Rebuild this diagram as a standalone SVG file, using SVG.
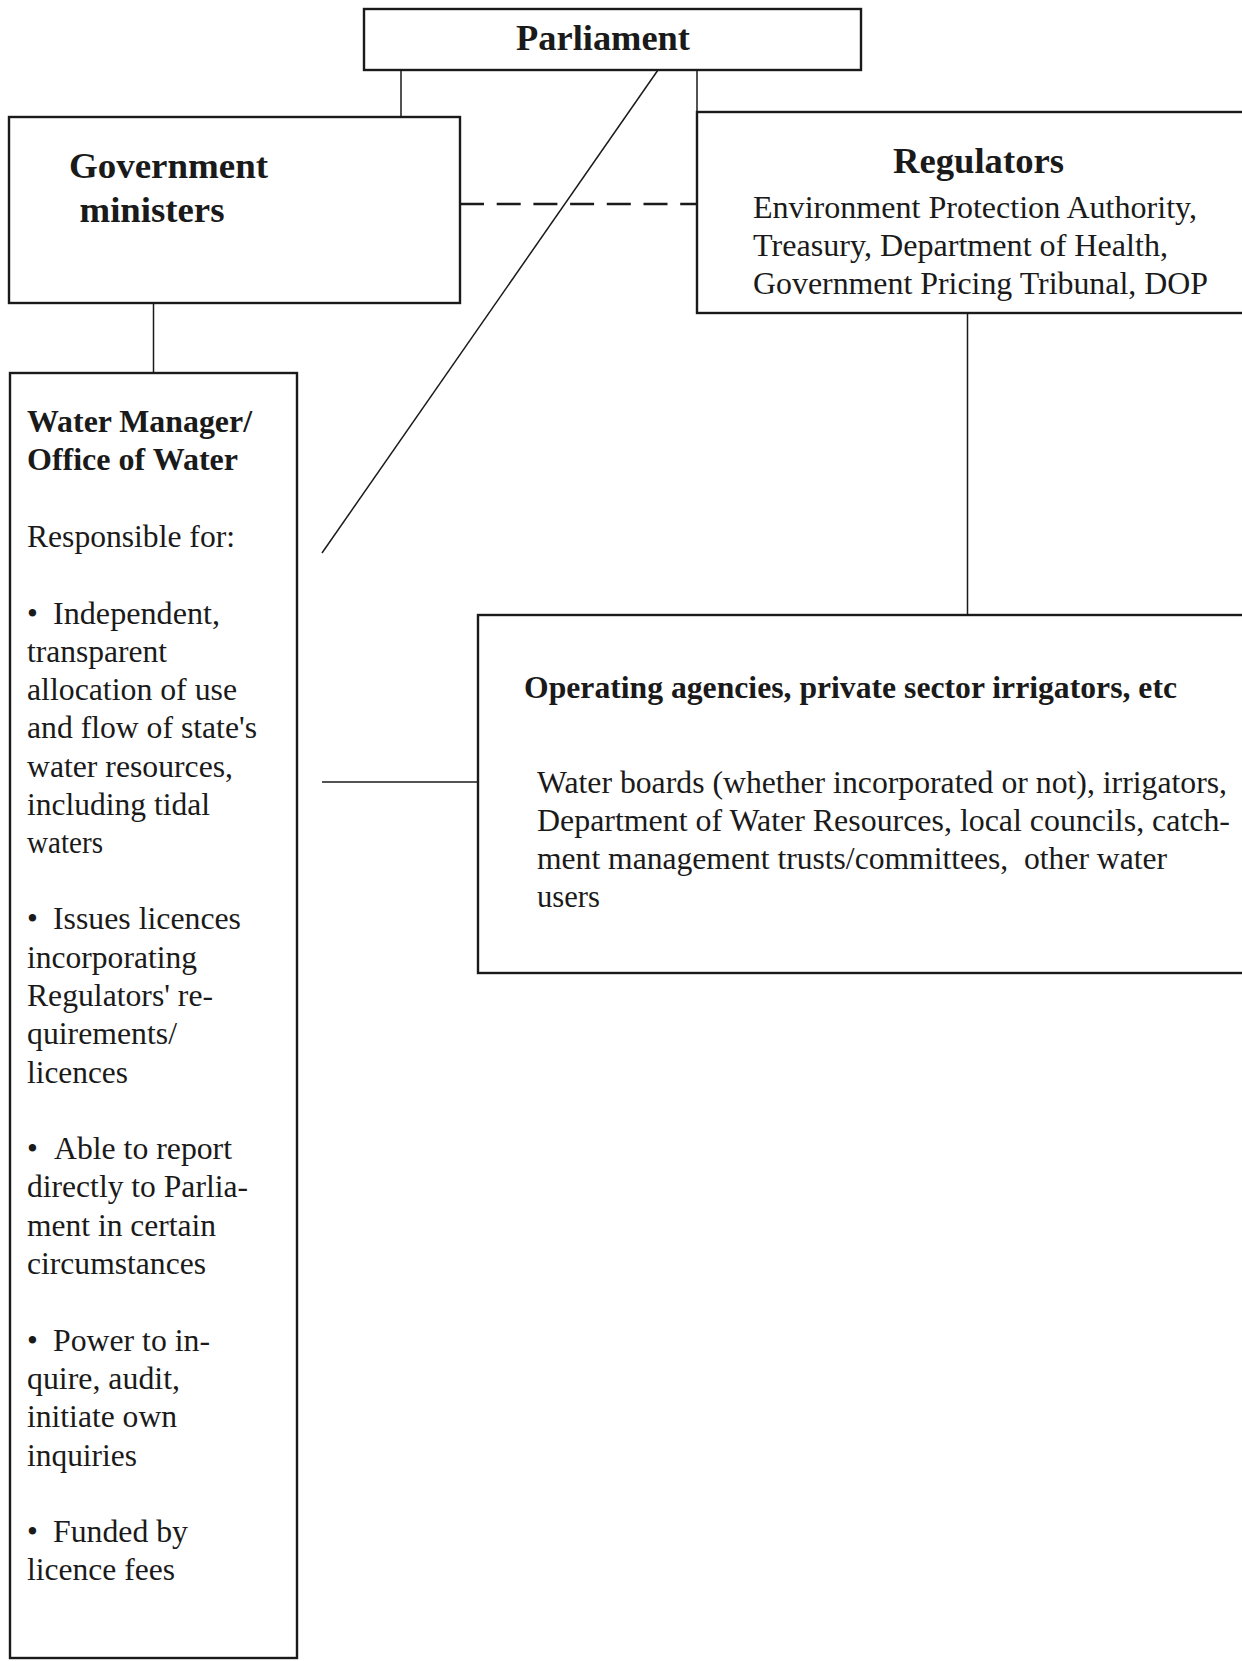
<svg xmlns="http://www.w3.org/2000/svg" width="1242" height="1661" viewBox="0 0 1242 1661">
<style>
.box{fill:#fff;stroke:#1a1a1a;stroke-width:2.4}
.con{fill:none;stroke:#1a1a1a;stroke-width:1.5}
.dash{stroke-width:2.4;stroke-dasharray:24 12.7}
.h1{font-family:"Liberation Serif","Times New Roman",Times,"Nimbus Roman",serif;font-weight:bold;font-size:36px;fill:#1a1a1a}
.h2{font-family:"Liberation Serif","Times New Roman",Times,"Nimbus Roman",serif;font-weight:bold;font-size:31px;fill:#1a1a1a}
.b{font-family:"Liberation Serif","Times New Roman",Times,"Nimbus Roman",serif;font-size:31px;fill:#1a1a1a}
</style>
<rect width="1242" height="1661" fill="#fff"/>
<g id="connectors">
<line class="con" x1="401" y1="70" x2="401" y2="117"/>
<line class="con" x1="697" y1="70" x2="697" y2="112"/>
<line class="con" x1="658" y1="70" x2="322" y2="553"/>
<line class="con dash" x1="460" y1="204" x2="697" y2="204"/>
<line class="con" x1="153.5" y1="303" x2="153.5" y2="373"/>
<line class="con" x1="967.5" y1="313" x2="967.5" y2="615"/>
<line class="con" x1="322" y1="782" x2="478" y2="782"/>
</g>
<g id="node-parliament">
<rect class="box" x="364" y="9" width="497" height="61"/>
<text class="h1" x="516" y="50" textLength="174" lengthAdjust="spacingAndGlyphs">Parliament</text>
</g>
<g id="node-government">
<rect class="box" x="9" y="117" width="451" height="186"/>
<text class="h1" x="69" y="178" textLength="199" lengthAdjust="spacingAndGlyphs">Government</text>
<text class="h1" x="79.5" y="222" textLength="145" lengthAdjust="spacingAndGlyphs">ministers</text>
</g>
<g id="node-regulators">
<rect class="box" x="697" y="112" width="560" height="201"/>
<text class="h1" x="893" y="173" textLength="171" lengthAdjust="spacingAndGlyphs">Regulators</text>
<text class="b" x="753" y="218" textLength="444" lengthAdjust="spacingAndGlyphs">Environment Protection Authority,</text>
<text class="b" x="753" y="256" textLength="415" lengthAdjust="spacingAndGlyphs">Treasury, Department of Health,</text>
<text class="b" x="753" y="294" textLength="455" lengthAdjust="spacingAndGlyphs">Government Pricing Tribunal, DOP</text>
</g>
<g id="node-water-manager">
<rect class="box" x="10" y="373" width="287" height="1285"/>
<text class="h2" x="27" y="432" textLength="225" lengthAdjust="spacingAndGlyphs">Water Manager/</text>
<text class="h2" x="27" y="470" textLength="211" lengthAdjust="spacingAndGlyphs">Office of Water</text>
<text class="b" x="27" y="547" textLength="208" lengthAdjust="spacingAndGlyphs">Responsible for:</text>
<text class="b" x="27" y="624">•</text>
<text class="b" x="53" y="624" textLength="167" lengthAdjust="spacingAndGlyphs">Independent,</text>
<text class="b" x="27" y="662" textLength="140" lengthAdjust="spacingAndGlyphs">transparent</text>
<text class="b" x="27" y="700" textLength="210" lengthAdjust="spacingAndGlyphs">allocation of use</text>
<text class="b" x="27" y="738" textLength="230" lengthAdjust="spacingAndGlyphs">and flow of state's</text>
<text class="b" x="27" y="777" textLength="206" lengthAdjust="spacingAndGlyphs">water resources,</text>
<text class="b" x="27" y="815" textLength="183" lengthAdjust="spacingAndGlyphs">including tidal</text>
<text class="b" x="27" y="853" textLength="76" lengthAdjust="spacingAndGlyphs">waters</text>
<text class="b" x="27" y="929">•</text>
<text class="b" x="53" y="929" textLength="188" lengthAdjust="spacingAndGlyphs">Issues licences</text>
<text class="b" x="27" y="968" textLength="170" lengthAdjust="spacingAndGlyphs">incorporating</text>
<text class="b" x="27" y="1006" textLength="186" lengthAdjust="spacingAndGlyphs">Regulators' re-</text>
<text class="b" x="27" y="1044" textLength="150" lengthAdjust="spacingAndGlyphs">quirements/</text>
<text class="b" x="27" y="1083" textLength="101" lengthAdjust="spacingAndGlyphs">licences</text>
<text class="b" x="27" y="1159">•</text>
<text class="b" x="54" y="1159" textLength="178" lengthAdjust="spacingAndGlyphs">Able to report</text>
<text class="b" x="27" y="1197" textLength="221" lengthAdjust="spacingAndGlyphs">directly to Parlia-</text>
<text class="b" x="27" y="1236" textLength="189" lengthAdjust="spacingAndGlyphs">ment in certain</text>
<text class="b" x="27" y="1274" textLength="179" lengthAdjust="spacingAndGlyphs">circumstances</text>
<text class="b" x="27" y="1351">•</text>
<text class="b" x="53" y="1351" textLength="157" lengthAdjust="spacingAndGlyphs">Power to in-</text>
<text class="b" x="27" y="1389" textLength="153" lengthAdjust="spacingAndGlyphs">quire, audit,</text>
<text class="b" x="27" y="1427" textLength="150" lengthAdjust="spacingAndGlyphs">initiate own</text>
<text class="b" x="27" y="1466" textLength="110" lengthAdjust="spacingAndGlyphs">inquiries</text>
<text class="b" x="27" y="1542">•</text>
<text class="b" x="53" y="1542" textLength="135" lengthAdjust="spacingAndGlyphs">Funded by</text>
<text class="b" x="27" y="1580" textLength="148" lengthAdjust="spacingAndGlyphs">licence fees</text>
</g>
<g id="node-operating">
<rect class="box" x="478" y="615" width="780" height="358"/>
<text class="h2" x="524" y="698" textLength="653" lengthAdjust="spacingAndGlyphs">Operating agencies, private sector irrigators, etc</text>
<text class="b" x="537" y="793" textLength="690" lengthAdjust="spacingAndGlyphs">Water boards (whether incorporated or not), irrigators,</text>
<text class="b" x="537" y="831" textLength="693" lengthAdjust="spacingAndGlyphs">Department of Water Resources, local councils, catch-</text>
<text class="b" x="537" y="869" textLength="630" lengthAdjust="spacingAndGlyphs" xml:space="preserve" style="white-space:pre">ment management trusts/committees,  other water</text>
<text class="b" x="537" y="907" textLength="63" lengthAdjust="spacingAndGlyphs">users</text>
</g>
</svg>
